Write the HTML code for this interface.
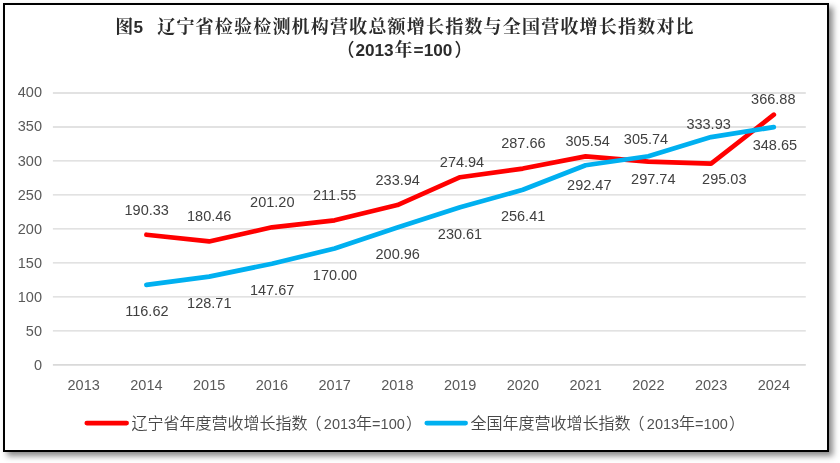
<!DOCTYPE html>
<html lang="zh-CN">
<head>
<meta charset="utf-8">
<title>图5 辽宁省检验检测机构营收总额增长指数与全国营收增长指数对比</title>
<style>
html,body{margin:0;padding:0;background:#fff;}
body{width:840px;height:463px;position:relative;overflow:hidden;}
#frame{position:absolute;left:3px;top:3px;width:822px;height:445px;border:2px solid #000;background:#fff;box-shadow:3.5px 3.5px 6px rgba(0,0,0,0.46);}
svg{position:absolute;left:0;top:0;}
.ax{font-family:"Liberation Sans",sans-serif;font-size:14.5px;fill:#595959;}
.dl{font-family:"Liberation Sans",sans-serif;font-size:14.5px;fill:#404040;}
.tt{font-family:"Liberation Sans","Noto Serif CJK SC",serif;font-weight:bold;font-size:18px;letter-spacing:1.2px;fill:#2b2b2b;}
.ttp{font-family:"Noto Sans CJK SC",sans-serif;font-weight:500;}
.ttn{font-size:17.2px;letter-spacing:0;}
.lg{font-family:"Liberation Sans","Noto Sans CJK SC",sans-serif;font-weight:350;font-size:16px;fill:#484848;}
.lgn{font-size:14.5px;font-weight:400;fill:#505050;}
</style>
</head>
<body>
<div id="frame"></div>
<svg width="840" height="463" viewBox="0 0 840 463">

<text class="tt" x="115.2" y="32.7">图<tspan class="ttn" dx="-1">5</tspan></text>
<text class="tt" x="157.2" y="32.7">辽宁省检验检测机构营收总额增长指数与全国营收增长指数对比</text>
<text class="tt" y="55.7"><tspan class="ttp" x="336.5">（</tspan><tspan class="ttn" x="355.4">2013</tspan><tspan x="394.6">年</tspan><tspan class="ttn" x="413.6">=100</tspan><tspan class="ttp" x="454.5">）</tspan></text>
<line x1="52.9" y1="364.90" x2="805.8" y2="364.90" stroke="#d9d9d9" stroke-width="1.7"/>
<text class="ax" x="42" y="370.10" text-anchor="end">0</text>
<line x1="52.9" y1="330.91" x2="805.8" y2="330.91" stroke="#d9d9d9" stroke-width="1.3"/>
<text class="ax" x="42" y="336.10" text-anchor="end">50</text>
<line x1="52.9" y1="296.92" x2="805.8" y2="296.92" stroke="#d9d9d9" stroke-width="1.3"/>
<text class="ax" x="42" y="302.10" text-anchor="end">100</text>
<line x1="52.9" y1="262.94" x2="805.8" y2="262.94" stroke="#d9d9d9" stroke-width="1.3"/>
<text class="ax" x="42" y="268.10" text-anchor="end">150</text>
<line x1="52.9" y1="228.95" x2="805.8" y2="228.95" stroke="#d9d9d9" stroke-width="1.3"/>
<text class="ax" x="42" y="234.10" text-anchor="end">200</text>
<line x1="52.9" y1="194.96" x2="805.8" y2="194.96" stroke="#d9d9d9" stroke-width="1.3"/>
<text class="ax" x="42" y="200.10" text-anchor="end">250</text>
<line x1="52.9" y1="160.97" x2="805.8" y2="160.97" stroke="#d9d9d9" stroke-width="1.3"/>
<text class="ax" x="42" y="166.10" text-anchor="end">300</text>
<line x1="52.9" y1="126.99" x2="805.8" y2="126.99" stroke="#d9d9d9" stroke-width="1.3"/>
<text class="ax" x="42" y="131.10" text-anchor="end">350</text>
<line x1="52.9" y1="93.00" x2="805.8" y2="93.00" stroke="#d9d9d9" stroke-width="1.3"/>
<text class="ax" x="42" y="97.10" text-anchor="end">400</text>
<text class="ax" x="83.67" y="389.80" text-anchor="middle">2013</text>
<text class="ax" x="146.41" y="389.80" text-anchor="middle">2014</text>
<text class="ax" x="209.15" y="389.80" text-anchor="middle">2015</text>
<text class="ax" x="271.90" y="389.80" text-anchor="middle">2016</text>
<text class="ax" x="334.64" y="389.80" text-anchor="middle">2017</text>
<text class="ax" x="397.38" y="389.80" text-anchor="middle">2018</text>
<text class="ax" x="460.12" y="389.80" text-anchor="middle">2019</text>
<text class="ax" x="522.86" y="389.80" text-anchor="middle">2020</text>
<text class="ax" x="585.60" y="389.80" text-anchor="middle">2021</text>
<text class="ax" x="648.35" y="389.80" text-anchor="middle">2022</text>
<text class="ax" x="711.09" y="389.80" text-anchor="middle">2023</text>
<text class="ax" x="773.83" y="389.80" text-anchor="middle">2024</text>
<polyline points="146.41,234.72 209.15,241.43 271.90,227.33 334.64,220.30 397.38,205.08 460.12,177.21 522.86,168.56 585.60,156.41 648.35,161.71 711.09,163.55 773.83,114.71" fill="none" stroke="#ff0000" stroke-width="4.7" stroke-linecap="round" stroke-linejoin="round"/>
<polyline points="146.41,284.83 209.15,276.61 271.90,263.72 334.64,248.54 397.38,227.50 460.12,207.34 522.86,189.81 585.60,165.29 648.35,156.27 711.09,137.11 773.83,127.11" fill="none" stroke="#00b0f0" stroke-width="4.7" stroke-linecap="round" stroke-linejoin="round"/>
<text class="dl" x="146.7" y="215.4" text-anchor="middle">190.33</text>
<text class="dl" x="209.2" y="221.3" text-anchor="middle">180.46</text>
<text class="dl" x="272.3" y="207.3" text-anchor="middle">201.20</text>
<text class="dl" x="334.7" y="200.3" text-anchor="middle">211.55</text>
<text class="dl" x="397.7" y="185.2" text-anchor="middle">233.94</text>
<text class="dl" x="462.0" y="167.0" text-anchor="middle">274.94</text>
<text class="dl" x="523.4" y="148.2" text-anchor="middle">287.66</text>
<text class="dl" x="587.7" y="146.0" text-anchor="middle">305.54</text>
<text class="dl" x="653.3" y="184.2" text-anchor="middle">297.74</text>
<text class="dl" x="724.3" y="184.2" text-anchor="middle">295.03</text>
<text class="dl" x="773.3" y="103.7" text-anchor="middle">366.88</text>
<text class="dl" x="146.9" y="315.7" text-anchor="middle">116.62</text>
<text class="dl" x="209.3" y="308.3" text-anchor="middle">128.71</text>
<text class="dl" x="272.1" y="295.2" text-anchor="middle">147.67</text>
<text class="dl" x="335.0" y="280.3" text-anchor="middle">170.00</text>
<text class="dl" x="397.7" y="258.7" text-anchor="middle">200.96</text>
<text class="dl" x="460.0" y="238.7" text-anchor="middle">230.61</text>
<text class="dl" x="523.1" y="221.3" text-anchor="middle">256.41</text>
<text class="dl" x="589.3" y="189.8" text-anchor="middle">292.47</text>
<text class="dl" x="646.0" y="144.1" text-anchor="middle">305.74</text>
<text class="dl" x="708.6" y="129.3" text-anchor="middle">333.93</text>
<text class="dl" x="774.9" y="149.9" text-anchor="middle">348.65</text>
<line x1="86.8" y1="423.1" x2="126.6" y2="423.1" stroke="#ff0000" stroke-width="4.7" stroke-linecap="round"/>
<text class="lg" x="131.5" y="429">辽宁省年度营收增长指数<tspan dx="-2">（</tspan><tspan class="lgn" dx="2.3">2013</tspan>年<tspan class="lgn" dx="0">=100</tspan><tspan dx="1.2">）</tspan></text>
<line x1="426.8" y1="423.1" x2="465.6" y2="423.1" stroke="#00b0f0" stroke-width="4.7" stroke-linecap="round"/>
<text class="lg" x="470.5" y="429">全国年度营收增长指数<tspan dx="-2">（</tspan><tspan class="lgn" dx="2.3">2013</tspan>年<tspan class="lgn" dx="0">=100</tspan><tspan dx="1.2">）</tspan></text>
</svg>
</body>
</html>
